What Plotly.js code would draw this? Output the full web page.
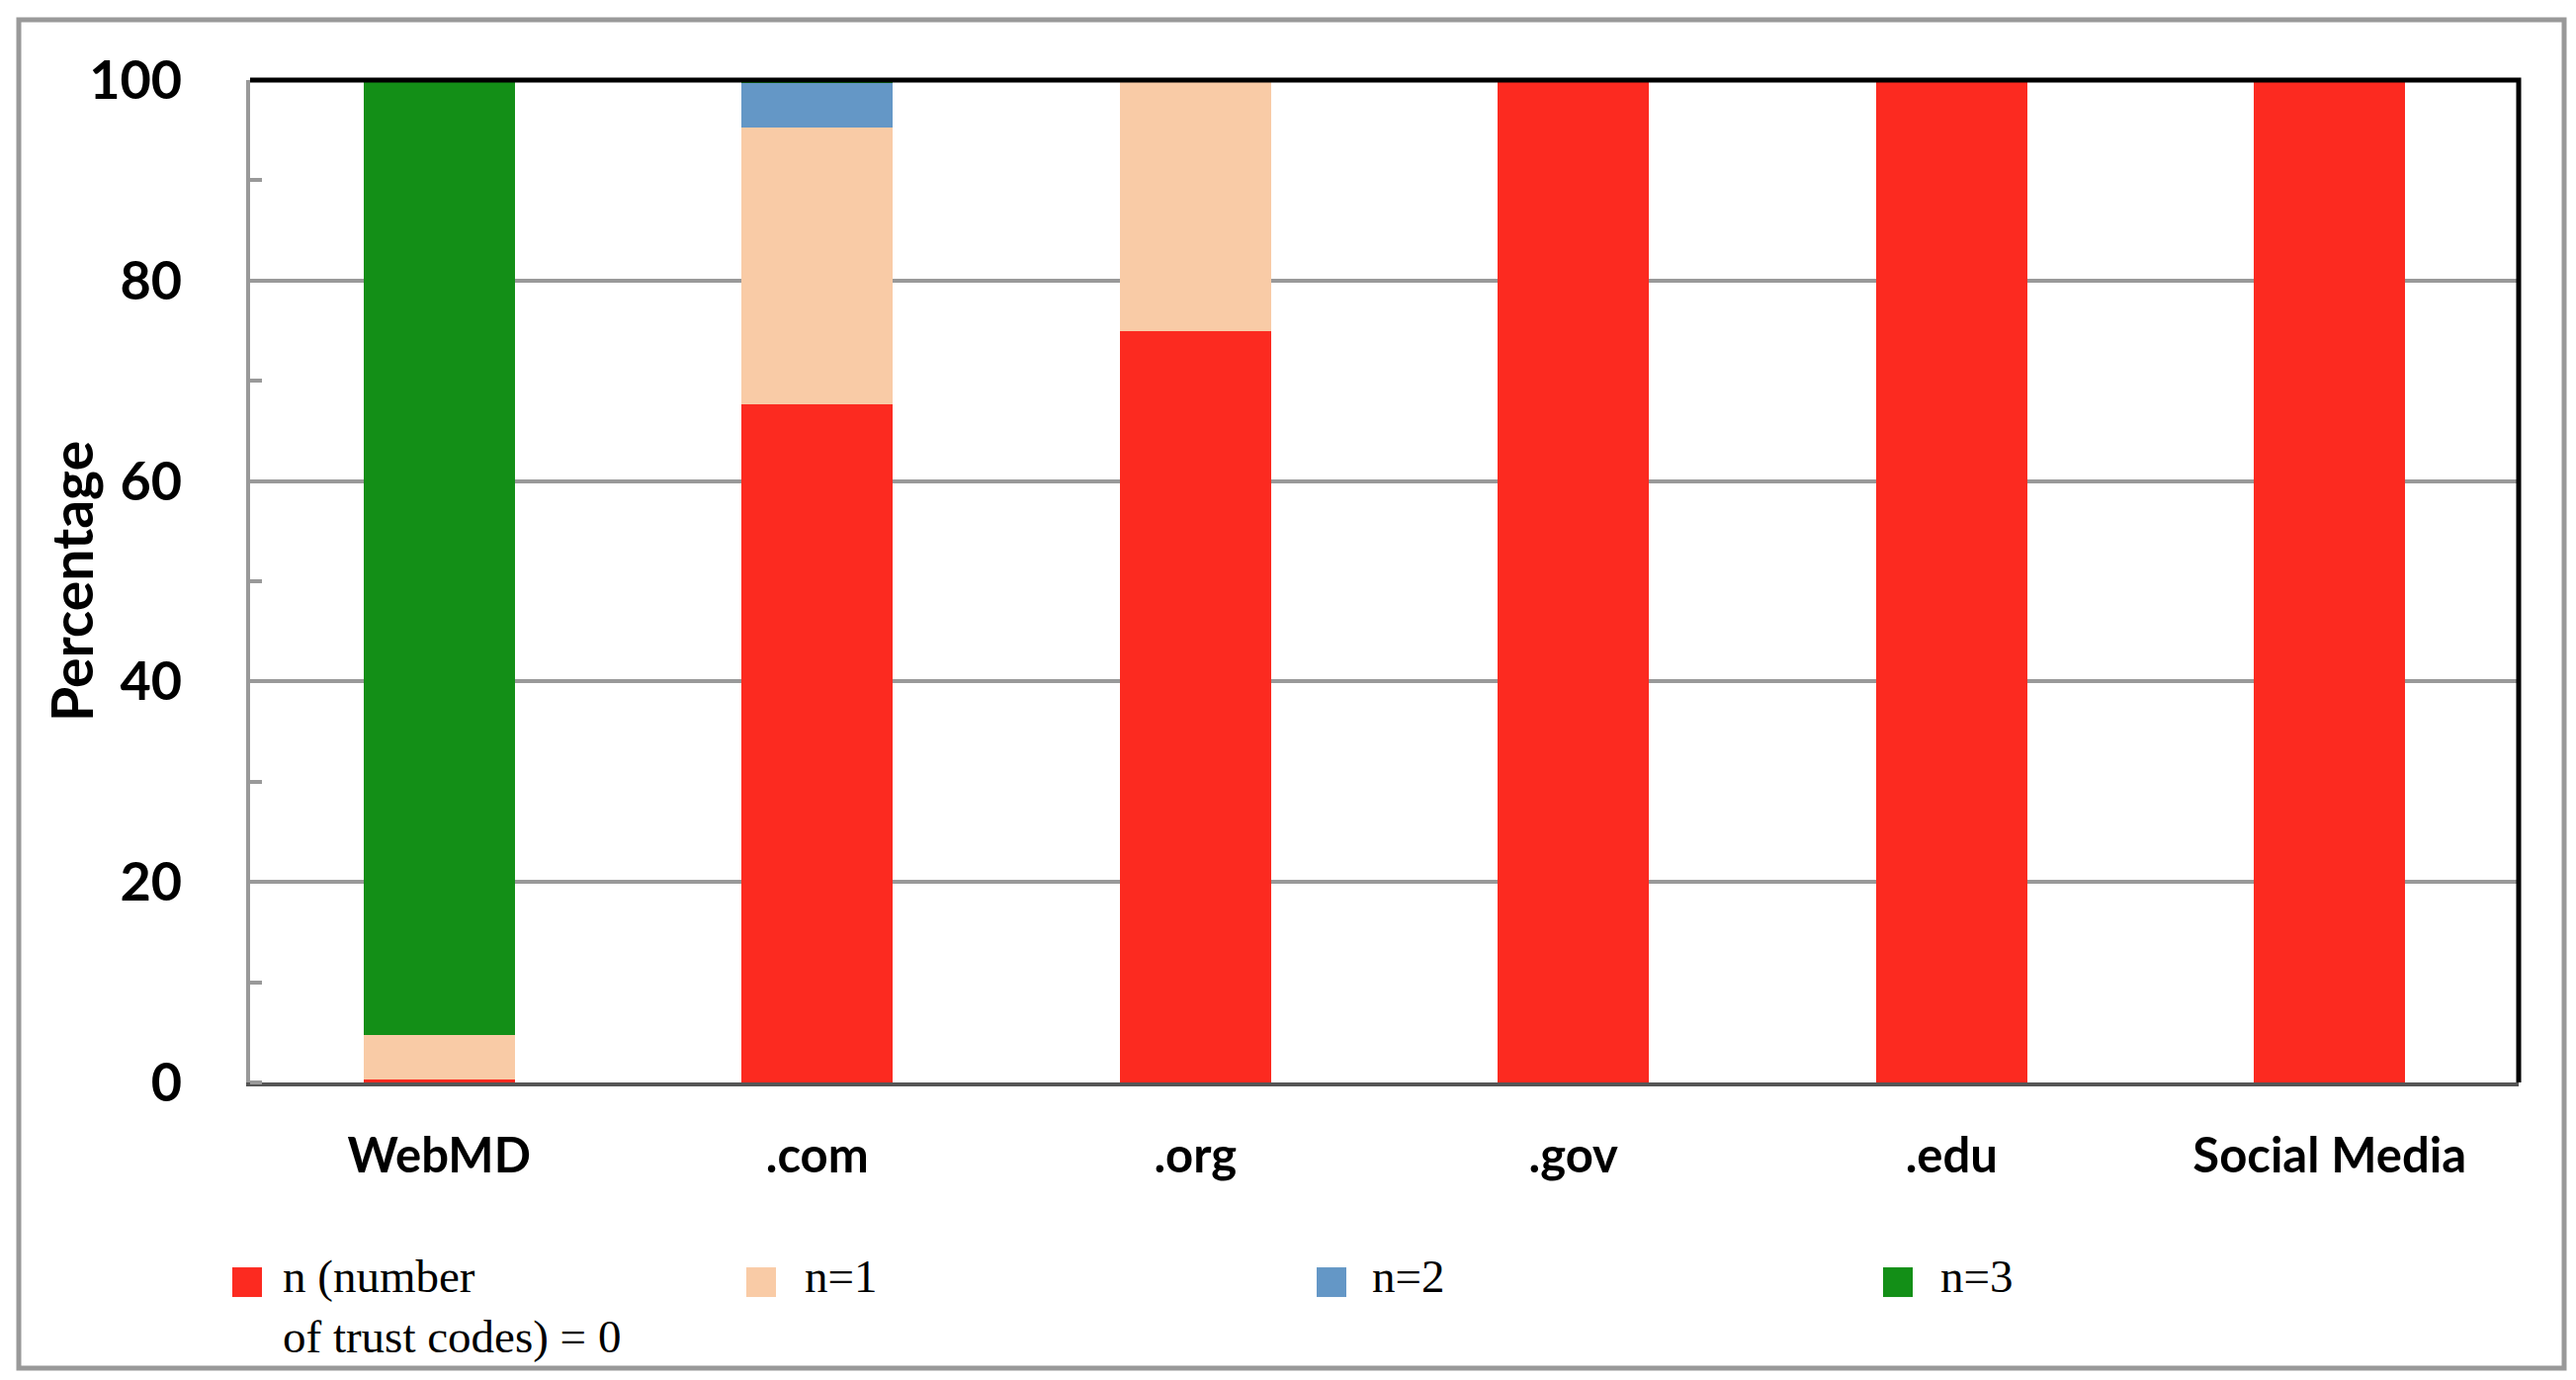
<!DOCTYPE html>
<html>
<head>
<meta charset="utf-8">
<script src="https://cdn.plot.ly/plotly-3.0.1.min.js"></script>
<style>
  html, body { margin: 0; padding: 0; background: #fff; }
  #chart { width: 2606px; height: 1396px; }
</style>
</head>
<body>
<div id="chart"></div>
<script>
// ---- data ----
const categories = ['WebMD', '.com', '.org', '.gov', '.edu', 'Social Media'];
const seriesNames = ['n (number<br>of trust codes) = 0', 'n=1', 'n=2', 'n=3'];
const n0 = [0.3, 67.7, 75, 100, 100, 100];
const n1 = [4.4, 27.6, 25, 0, 0, 0];
const n2 = [0, 4.4, 0, 0, 0, 0];
const n3 = [95.3, 0.3, 0, 0, 0, 0];
const yTicks = [0, 20, 40, 60, 80, 100];
const yTitle = 'Percentage';

// ---- styles ----
const colors = ['#FC2A20', '#F9CBA6', '#6497C6', '#138F17'];
const values = [n0, n1, n2, n3];
const legendIds = ['legend', 'legend2', 'legend3', 'legend4'];

const L = 253, R = 58, T = 81, B = 301;
const W = 2606, H = 1396;
const pw = W - L - R, ph = H - T - B;
const px = v => (v - L) / pw;           // pixel x -> paper x
const py = v => (H - B - v) / ph;       // pixel y -> paper y

const traces = values.map((vals, i) => ({
  type: 'bar',
  x: categories,
  y: vals,
  name: seriesNames[i],
  legend: legendIds[i],
  width: 0.4,
  marker: { color: colors[i], line: { width: 0 } },
  hoverinfo: 'skip'
}));

const legendCenters = [250, 770, 1347, 1920];
const legendItemWidths = [62, 78, 72, 76];
const legendFont = { family: '"Liberation Serif", "Times New Roman", serif', size: 47, color: '#000' };
function mkLegend(i) {
  const iw = legendItemWidths[i];
  return {
    x: px(legendCenters[i] - (iw / 2 + 5)), xanchor: 'left',
    y: py(1252), yanchor: 'top',
    font: legendFont,
    valign: 'top',
    itemwidth: iw,
    bgcolor: 'rgba(0,0,0,0)',
    borderwidth: 0,
    itemclick: false, itemdoubleclick: false
  };
}

const boldFont = (size) => ({ family: 'Lato, "Open Sans", sans-serif', size: size, color: '#000', weight: 'bold' });

const layout = {
  width: W, height: H,
  margin: { l: L, r: R, t: T, b: B, pad: 0, autoexpand: false },
  paper_bgcolor: '#fff',
  plot_bgcolor: '#fff',
  barmode: 'stack',
  showlegend: true,
  legend: mkLegend(0),
  legend2: mkLegend(1),
  legend3: mkLegend(2),
  legend4: mkLegend(3),
  xaxis: {
    type: 'category',
    range: [-0.5, 5.5],
    showline: true, linecolor: '#555', linewidth: 4,
    showgrid: false, zeroline: false,
    ticks: '',
    ticklabelstandoff: 28,
    tickfont: boldFont(49),
    fixedrange: true
  },
  yaxis: {
    range: [0, 100],
    tickvals: yTicks,
    ticktext: yTicks.map(String),
    showline: true, linecolor: '#999', linewidth: 4,
    showgrid: true, gridcolor: '#999', gridwidth: 4,
    zeroline: false,
    ticks: '',
    ticklabelstandoff: 54,
    tickfont: boldFont(54),
    minor: { dtick: 10, ticks: 'inside', ticklen: 12, tickwidth: 4, tickcolor: '#999', showgrid: false },
    fixedrange: true
  },
  annotations: [
    { text: yTitle, textangle: -90, xref: 'paper', yref: 'paper',
      x: px(72), y: 0.5, xanchor: 'center', yanchor: 'middle',
      showarrow: false, font: boldFont(57) }
  ],
  shapes: [
    // black top and right frame
    { type: 'path', xref: 'paper', yref: 'paper', path: 'M0,1 L1,1 L1,0',
      line: { color: '#000', width: 5 }, layer: 'above' },
    // outer chart border
    { type: 'rect', xref: 'paper', yref: 'paper',
      x0: px(19), x1: px(2594), y0: py(1384), y1: py(20),
      line: { color: '#999', width: 5 }, layer: 'above' }
  ]
};

function enlargeLegendIcons() {
  document.querySelectorAll('#chart g.legendpoints path').forEach(p => {
    p.setAttribute('d', 'M15,23H-15V-7H15Z');
  });
}

Plotly.newPlot('chart', traces, layout, { displayModeBar: false, staticPlot: true })
  .then(gd => { enlargeLegendIcons(); gd.on('plotly_afterplot', enlargeLegendIcons); });
</script>
</body>
</html>
